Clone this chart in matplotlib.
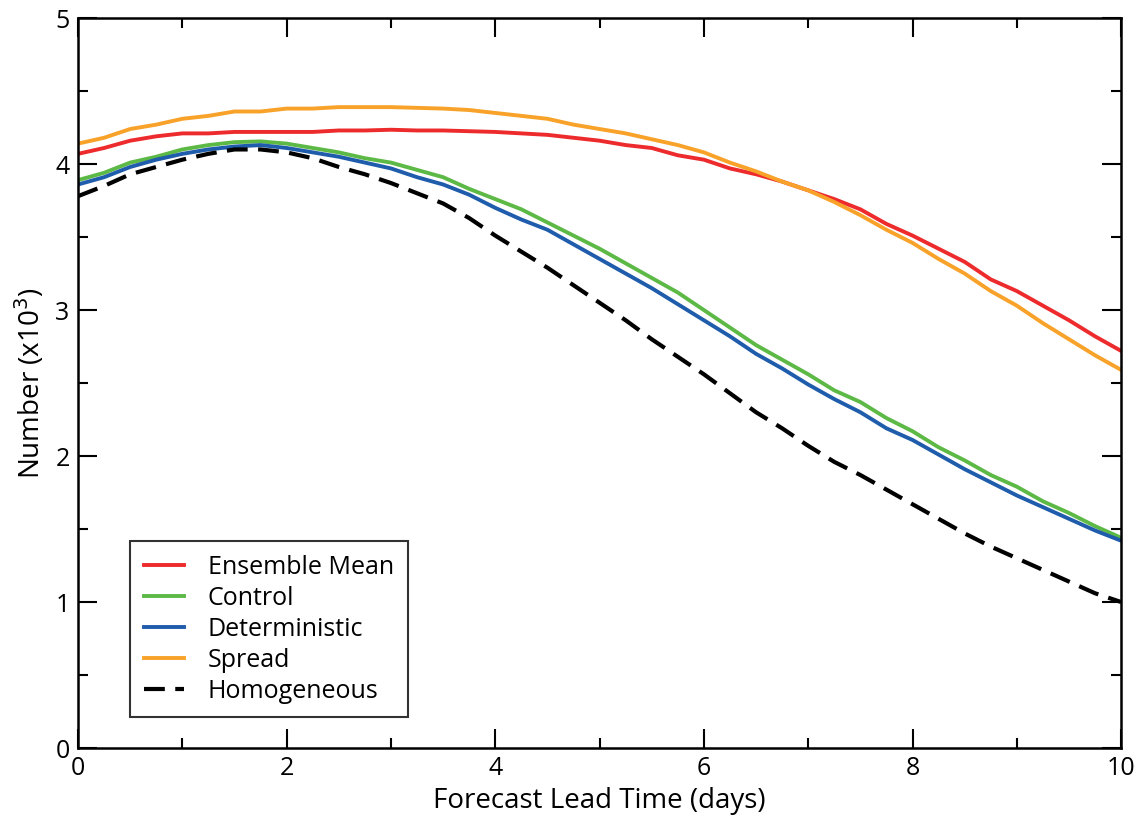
import matplotlib
matplotlib.use('Agg')
import matplotlib.pyplot as plt
import numpy as np

plt.rcParams['font.family'] = ['Open Sans', 'DejaVu Sans']

days = np.arange(0, 10.01, 0.25)

ensemble_mean = [4.07, 4.11, 4.16, 4.19, 4.21, 4.21, 4.22, 4.22, 4.22, 4.22, 4.23,
                 4.23, 4.235, 4.23, 4.23, 4.225, 4.22, 4.21, 4.20, 4.18, 4.16, 4.13,
                 4.11, 4.06, 4.03, 3.97, 3.93, 3.88, 3.82, 3.76, 3.69, 3.59, 3.51,
                 3.42, 3.33, 3.21, 3.13, 3.03, 2.93, 2.82, 2.72]
control = [3.89, 3.94, 4.01, 4.05, 4.10, 4.13, 4.15, 4.155, 4.14, 4.11, 4.08,
           4.04, 4.01, 3.96, 3.91, 3.83, 3.76, 3.69, 3.60, 3.51, 3.42, 3.32,
           3.22, 3.12, 3.00, 2.88, 2.76, 2.66, 2.56, 2.45, 2.37, 2.26, 2.17,
           2.06, 1.97, 1.87, 1.79, 1.69, 1.61, 1.52, 1.44]
deterministic = [3.86, 3.91, 3.98, 4.03, 4.07, 4.10, 4.12, 4.13, 4.11, 4.08, 4.05,
                 4.01, 3.97, 3.91, 3.86, 3.79, 3.70, 3.62, 3.55, 3.45, 3.35, 3.25,
                 3.15, 3.04, 2.93, 2.82, 2.70, 2.60, 2.49, 2.39, 2.30, 2.19, 2.11,
                 2.01, 1.91, 1.82, 1.73, 1.65, 1.57, 1.49, 1.42]
spread = [4.14, 4.18, 4.24, 4.27, 4.31, 4.33, 4.36, 4.36, 4.38, 4.38, 4.39,
          4.39, 4.39, 4.385, 4.38, 4.37, 4.35, 4.33, 4.31, 4.27, 4.24, 4.21,
          4.17, 4.13, 4.08, 4.01, 3.95, 3.88, 3.82, 3.74, 3.65, 3.55, 3.46,
          3.35, 3.25, 3.13, 3.03, 2.91, 2.80, 2.69, 2.59]
homogeneous = [3.78, 3.85, 3.93, 3.98, 4.03, 4.07, 4.10, 4.10, 4.08, 4.04, 3.98,
               3.93, 3.87, 3.80, 3.73, 3.63, 3.51, 3.40, 3.29, 3.17, 3.05, 2.93,
               2.80, 2.68, 2.56, 2.43, 2.30, 2.19, 2.07, 1.96, 1.87, 1.77, 1.67,
               1.57, 1.47, 1.38, 1.30, 1.22, 1.14, 1.06, 1.00]

fig = plt.figure(figsize=(11.44, 8.21), dpi=100)
ax = fig.add_axes([0.0682, 0.0889, 0.9118, 0.8891])

lw = 2.8
ax.plot(days, ensemble_mean, color='#ED2B2D', lw=lw, label='Ensemble Mean')
ax.plot(days, control, color='#5DB946', lw=lw, label='Control')
ax.plot(days, deterministic, color='#1F5CAB', lw=lw, label='Deterministic')
ax.plot(days, spread, color='#F8A22A', lw=lw, label='Spread')
ax.plot(days, homogeneous, color='black', lw=3.0, dashes=(5, 2.5), label='Homogeneous')

ax.set_xlim(0, 10)
ax.set_ylim(0, 5)
ax.set_xticks([0, 2, 4, 6, 8, 10])
ax.set_xticks([1, 3, 5, 7, 9], minor=True)
ax.set_yticks([0, 1, 2, 3, 4, 5])
ax.set_yticks([0.5, 1.5, 2.5, 3.5, 4.5], minor=True)
ax.tick_params(which='both', direction='in', top=True, right=True, width=1.5,
               labelsize=18, colors='black')
ax.tick_params(which='major', length=14, pad=6)
ax.tick_params(which='minor', length=7)
for s in ax.spines.values():
    s.set_linewidth(1.8)

ax.set_xlabel('Forecast Lead Time (days)', fontsize=20, labelpad=4)
ax.set_ylabel('Number (x10$^3$)', fontsize=20, labelpad=6)

leg = ax.legend(loc='lower left', bbox_to_anchor=(0.05, 0.042), borderaxespad=0,
                fontsize=18, frameon=True, fancybox=False, handlelength=1.6,
                handletextpad=0.95, labelspacing=0.24, borderpad=0.55)
leg.get_frame().set_edgecolor('black')
leg.get_frame().set_linewidth(1.5)

fig.savefig('out.png', dpi=100)
